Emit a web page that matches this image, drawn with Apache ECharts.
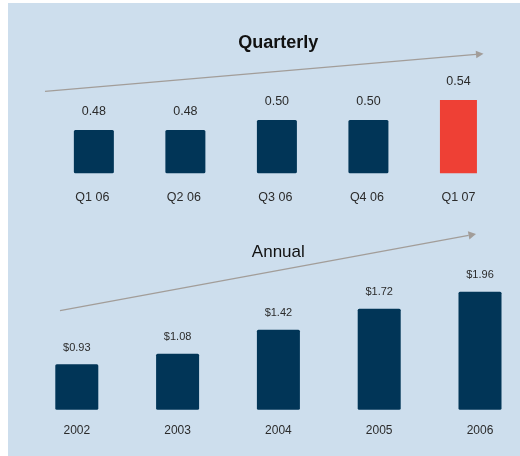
<!DOCTYPE html>
<html>
<head>
<meta charset="utf-8">
<script src="https://cdn.jsdelivr.net/npm/echarts@6/dist/echarts.min.js"></script>
<style>
  html, body { margin: 0; padding: 0; background: #ffffff; }
  #chart { width: 520px; height: 456px; }
</style>
</head>
<body>
<div id="chart"></div>
<script>
// Earnings per share: last five quarters and five fiscal years
const quarterLabels = ['Q1 06', 'Q2 06', 'Q3 06', 'Q4 06', 'Q1 07'];
const quarterValues = [0.48, 0.48, 0.50, 0.50, 0.54];
const yearLabels = ['2002', '2003', '2004', '2005', '2006'];
const yearValues = [0.93, 1.08, 1.42, 1.72, 1.96];

const NAVY = '#013557';
const RED = '#ee4035';
const PANEL = '#cddeed';
const ARROW = '#a29d99';
const TEXT = '#2b2b2b';
const SANS = '"Liberation Sans", Arial, sans-serif';

const lastQ = quarterValues.length - 1;
const quarterNavy = quarterValues.map((v, i) => (i === lastQ ? '-' : v));
const quarterRed = quarterValues.map((v, i) => (i === lastQ ? v : '-'));

function arrow(x1, y1, x2, y2, len, half) {
  const a = Math.atan2(y2 - y1, x2 - x1);
  const bx = x2 - len * Math.cos(a), by = y2 - len * Math.sin(a);
  const nx = -Math.sin(a) * half, ny = Math.cos(a) * half;
  return [
    { type: 'line', silent: true, z: 1,
      shape: { x1: x1, y1: y1, x2: bx, y2: by },
      style: { stroke: ARROW, lineWidth: 1.3 } },
    { type: 'polygon', silent: true, z: 1,
      shape: { points: [[x2, y2], [bx + nx, by + ny], [bx - nx, by - ny]] },
      style: { fill: ARROW } }
  ];
}

const chart = echarts.init(document.getElementById('chart'), null, { renderer: 'canvas' });

chart.setOption({
  animation: false,
  backgroundColor: '#ffffff',
  graphic: [
    { type: 'rect', silent: true, z: -10,
      shape: { x: 8, y: 3, width: 512, height: 453 },
      style: { fill: PANEL } },
    ...arrow(45, 91.3, 483.5, 53.8, 7.5, 3.8),
    ...arrow(60, 310.7, 476, 234, 7.5, 4.2),
    { type: 'text', silent: true, z: 5, x: 278.3, y: 43.5,
      style: { text: 'Quarterly', fill: '#111111', font: 'bold 18px ' + SANS,
               textAlign: 'center', textVerticalAlign: 'middle' } },
    { type: 'text', silent: true, z: 5, x: 278.3, y: 252,
      style: { text: 'Annual', fill: '#111111', font: '17px ' + SANS,
               textAlign: 'center', textVerticalAlign: 'middle' } }
  ],
  grid: [
    { left: 46.6, width: 457.6, top: 70, bottom: 282.7 },
    // annual categories sit on the tick points (boundaryGap off)
    { left: 76.8, width: 403.2, top: 274.8, bottom: 46.3 }
  ],
  xAxis: [
    { type: 'category', gridIndex: 0, data: quarterLabels,
      axisLine: { show: false }, axisTick: { show: false },
      axisLabel: { margin: 18, color: TEXT, fontSize: 12.5, fontFamily: SANS } },
    { type: 'category', gridIndex: 1, data: yearLabels, boundaryGap: false,
      axisLine: { show: false }, axisTick: { show: false },
      axisLabel: { margin: 15, color: TEXT, fontSize: 12, fontFamily: SANS } }
  ],
  yAxis: [
    { type: 'value', gridIndex: 0, min: 0.3934, max: 0.6, show: false },
    { type: 'value', gridIndex: 1, min: 0.286, max: 2.2, show: false }
  ],
  series: [
    { type: 'bar', xAxisIndex: 0, yAxisIndex: 0, data: quarterNavy,
      barWidth: 40, barGap: '-100%',
      itemStyle: { color: NAVY, borderRadius: 1.5 },
      label: { show: true, position: 'top', distance: 12, color: TEXT,
               fontSize: 12.5, fontFamily: SANS,
               formatter: p => p.value.toFixed(2) } },
    { type: 'bar', xAxisIndex: 0, yAxisIndex: 0, data: quarterRed,
      barWidth: 37, barGap: '-100%',
      itemStyle: { color: RED },
      label: { show: true, position: 'top', distance: 12, color: TEXT,
               fontSize: 12.5, fontFamily: SANS,
               formatter: p => p.value.toFixed(2) } },
    { type: 'bar', xAxisIndex: 1, yAxisIndex: 1, data: yearValues,
      barWidth: 43,
      itemStyle: { color: NAVY, borderRadius: 1.5 },
      label: { show: true, position: 'top', distance: 11, color: TEXT,
               fontSize: 11, fontFamily: SANS,
               formatter: p => '$' + p.value.toFixed(2) } }
  ]
});
</script>
</body>
</html>
